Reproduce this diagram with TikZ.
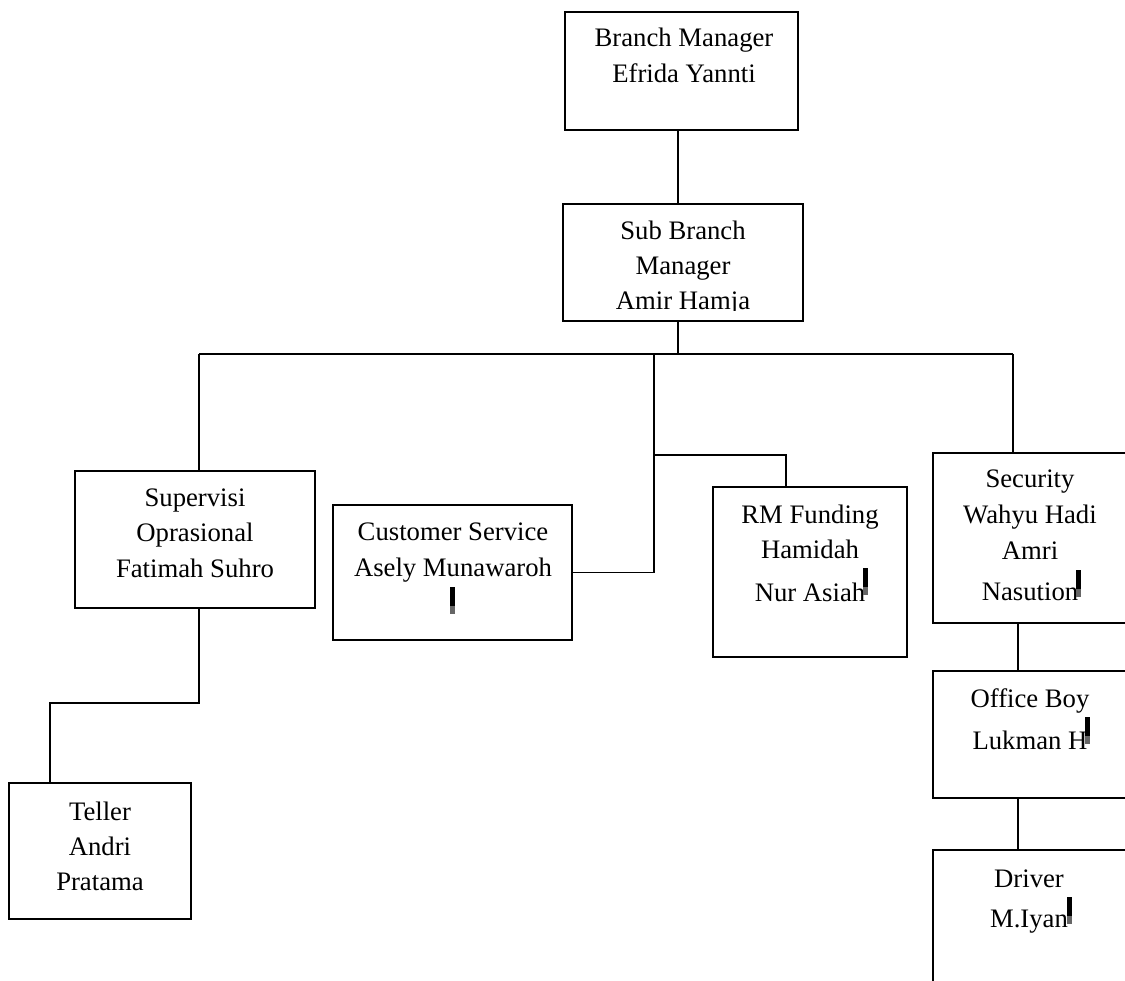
\documentclass[tikz,border=0pt]{standalone}
\usepackage{fontspec}
\setmainfont{Liberation Serif}
\begin{document}
\begin{tikzpicture}[x=1pt,y=-1pt,
  box/.style={draw=black,line width=1.4pt,inner sep=0pt,outer sep=0pt,rectangle},
  txt/.style={anchor=base,inner sep=0pt,font=\fontsize{26.7}{32}\selectfont},
  conn/.style={draw=black,line width=1.4pt}]
\useasboundingbox[fill=white] (0,0) rectangle (1125,981);

% boxes
\node[box,minimum width=233pt,minimum height=118pt] (bm)  at (681.5,71) {};
\node[box,minimum width=240pt,minimum height=117pt] (sub) at (683,262.5) {};
\node[box,minimum width=240pt,minimum height=137pt] (sup) at (195,539.5) {};
\node[box,minimum width=239pt,minimum height=135pt] (cs)  at (452.5,572.5) {};
\node[box,minimum width=194pt,minimum height=170pt] (rm)  at (810,572) {};
\node[box,minimum width=197pt,minimum height=170pt] (sec) at (1031.5,538) {};
\node[box,minimum width=197pt,minimum height=127pt] (ob)  at (1031.5,734.5) {};
\node[box,minimum width=197pt,minimum height=150pt] (drv) at (1031.5,925) {};
\node[box,minimum width=182pt,minimum height=136pt] (tel) at (100,851) {};

% texts
\node[txt] (bm1) at (684,47) {Branch Manager};
\node[txt] (bm2) at (684,83) {Efrida Yannti};
\node[txt] (sub1) at (683,240) {Sub Branch};
\node[txt] (sub2) at (683,275) {Manager};
\begin{scope}
  \clip (563,204) rectangle (803,311);
  \node[txt] (sub3) at (683,310) {Amir Hamja};
\end{scope}
\node[txt] (sup1) at (195,506) {Supervisi};
\node[txt] (sup2) at (195,541) {Oprasional};
\node[txt] (sup3) at (195,577) {Fatimah Suhro};
\node[txt] (cs1) at (453,540) {Customer Service};
\node[txt] (cs2) at (453,576) {Asely Munawaroh};
\node[txt] (rm1) at (810,523) {RM Funding};
\node[txt] (rm2) at (810,558) {Hamidah};
\node[txt] (rm3) at (810,601) {Nur Asiah};
\node[txt] (sec1) at (1030,488) {Security};
\node[txt] (sec2) at (1030,523) {Wahyu Hadi};
\node[txt] (sec3) at (1030,559) {Amri};
\node[txt] (sec4) at (1030,600) {Nasution};
\node[txt] (ob1) at (1030,707) {Office Boy};
\node[txt] (ob2) at (1030,749) {Lukman H};
\node[txt] (drv1) at (1029,887) {Driver};
\node[txt] (drv2) at (1029,927) {M.Iyan};
\node[txt] (tel1) at (100,820) {Teller};
\node[txt] (tel2) at (100,855) {Andri};
\node[txt] (tel3) at (100,890) {Pratama};

% cursor marks
\foreach \cx/\cy in {450/587, 863/568, 1076/570, 1085/717, 1067/897}{
  \fill[black] (\cx,\cy) rectangle ++(5,19);
  \fill[black!60] (\cx,\cy+19) rectangle ++(5,8);
}

% connector coordinates
\coordinate (busL) at (199,354);
\coordinate (busM) at (654,354);
\coordinate (busR) at (1013,354);
\coordinate (bmx) at (678,0);
\coordinate (rmj) at (654,455);
\coordinate (rmin) at (786,455);
\coordinate (obx) at (1018,0);
\coordinate (k1) at (199,703);
\coordinate (k2) at (50,703);

% connectors
\draw[conn] (bm.south -| bmx) -- (sub.north -| bmx);
\draw[conn] (sub.south -| bmx) -- (busL -| bmx);
\draw[conn] (busL) -- (busR);
\draw[conn] (busL) -- (busL |- sup.north);
\draw[conn] (busR) -- (busR |- sec.north);
\draw[conn] (busM) -- (busM |- cs.east) -- (cs.east);
\draw[conn] (rmj) -- (rmin) -- (rmin |- rm.north);
\draw[conn] (sec.south -| obx) -- (ob.north -| obx);
\draw[conn] (ob.south -| obx) -- (drv.north -| obx);
\draw[conn] (sup.south -| k1) -- (k1) -- (k2) -- (k2 |- tel.north);
\end{tikzpicture}
\end{document}
